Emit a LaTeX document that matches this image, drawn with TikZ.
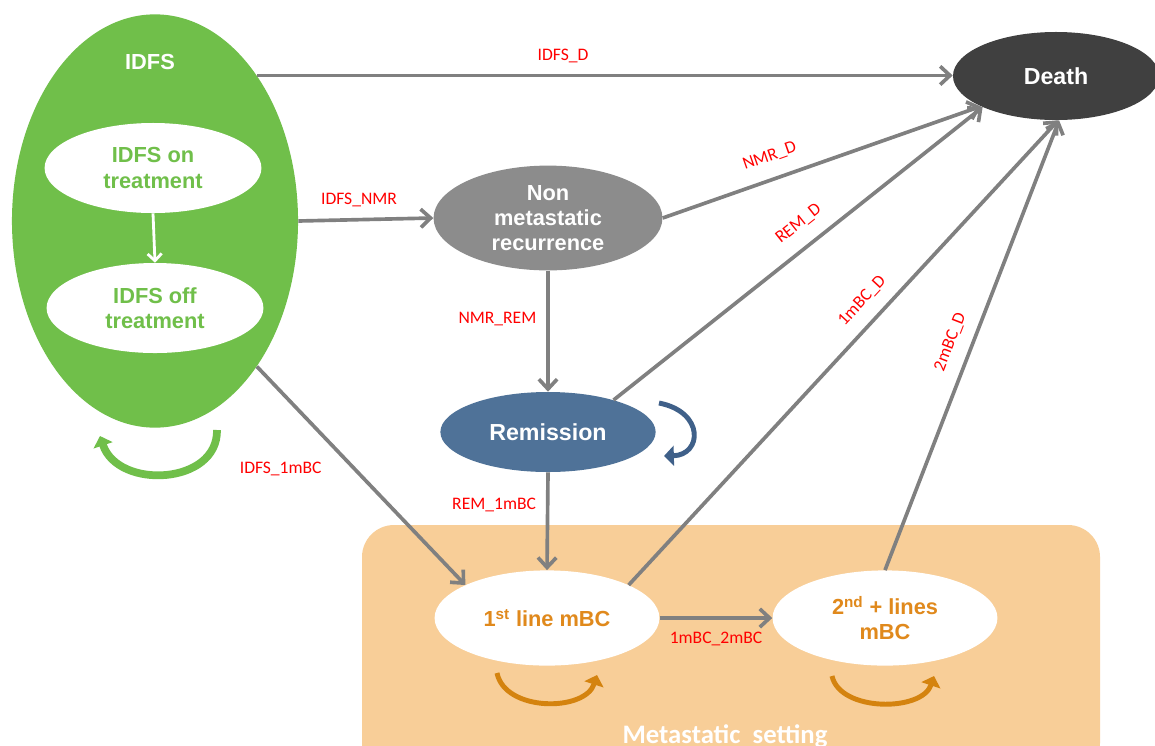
\documentclass[tikz,border=0pt]{standalone}
\usepackage{fontspec}
\setmainfont{Liberation Sans}
\newfontfamily\lblfont{Carlito}
\usepackage{tikz}
\usetikzlibrary{arrows.meta, shapes.geometric}
\definecolor{idfsgreen}{HTML}{70BF4A}
\definecolor{idfsdark}{HTML}{5E9E3A}
\definecolor{deathgray}{HTML}{404040}
\definecolor{nmrgray}{HTML}{8C8C8C}
\definecolor{remblue}{HTML}{4F7298}
\definecolor{remdark}{HTML}{3F6089}
\definecolor{metafill}{HTML}{F8CE98}
\definecolor{mbcorange}{HTML}{E0891C}
\definecolor{loopgold}{HTML}{D4830F}
\definecolor{edgegray}{HTML}{808080}
\tikzset{
  state_base/.style={ellipse, inner sep=0pt, align=center, font=\bfseries\fontsize{15.5}{18}\selectfont},
  idfs_outer/.style={state_base, fill=idfsgreen, minimum width=7.15cm, minimum height=10.33cm},
  idfs_inner/.style={state_base, fill=white, text=idfsgreen, minimum width=5.42cm, minimum height=2.25cm},
  death_node/.style={state_base, fill=deathgray, text=white, minimum width=5.15cm, minimum height=2.2cm, font=\bfseries\fontsize{16.5}{19}\selectfont},
  nmr_node/.style={state_base, fill=nmrgray, text=white, minimum width=5.72cm, minimum height=2.62cm},
  rem_node/.style={state_base, fill=remblue, text=white, minimum width=5.38cm, minimum height=2.0cm, font=\bfseries\fontsize{16.5}{19}\selectfont},
  mbc_node/.style={state_base, fill=white, text=mbcorange, minimum width=5.62cm, minimum height=2.38cm},
  trans_edge/.style={draw=edgegray, line width=2.6pt, -{Straight Barb[length=7pt, width=13pt]}},
  inner_edge/.style={draw=white, line width=2pt, -{Straight Barb[length=5pt, width=10pt]}},
  trans_label/.style={font=\lblfont\fontsize{12.5}{14}\selectfont, text=red, inner sep=1pt},
  loop_edge/.style={line width=4.5pt, -{Triangle[length=7pt, width=14pt]}},
  meta_title/.style={font=\lblfont\bfseries\fontsize{19}{22}\selectfont, text=white}
}
\begin{document}
\begin{tikzpicture}[x=0.025cm, y=-0.025cm]
\clip (0,0) rectangle (1155,745);
\fill[white] (0,0) rectangle (1155,745);
\fill[metafill, rounded corners=0.8cm] (362,525) rectangle (1100,775);
\node[meta_title] (meta_title) at (725,736) {Metastatic\ \ setting};
\node[idfs_outer] (idfs) at (155,221) {};
\node[font=\bfseries\fontsize{15.5}{18}\selectfont, text=white] (idfs_title) at (150,62) {IDFS};
\node[idfs_inner] (idfs_on) at (153,168) {IDFS on\\treatment};
\node[idfs_inner] (idfs_off) at (155,308) {IDFS off\\treatment};
\node[death_node] (death) at (1056,76) {Death};
\node[nmr_node] (nmr) at (548,218) {Non\\metastatic\\recurrence};
\node[rem_node] (rem) at (548,432) {Remission};
\node[mbc_node] (first_mbc) at (547,618) {1\textsuperscript{st} line mBC};
\node[mbc_node] (second_mbc) at (885,618) {2\textsuperscript{nd} + lines\\mBC};
\draw[inner_edge] (idfs_on.south) -- (idfs_off.north);
\draw[trans_edge] (idfs.55) -- node[trans_label, pos=0.44, above=7pt] {IDFS\_D} (death.west |- idfs.55);
\draw[trans_edge] (idfs.east) -- node[trans_label, pos=0.45, above=7pt] {IDFS\_NMR} (nmr.west);
\draw[trans_edge] (idfs.-55) -- node[trans_label, pos=0.47, anchor=east, xshift=-0.75cm] {IDFS\_1mBC} (first_mbc.158);
\draw[trans_edge] (nmr.east) -- node[trans_label, pos=0.36, above=9pt, sloped] {NMR\_D} (death.202);
\draw[trans_edge] (nmr.south) -- node[trans_label, pos=0.4, left=6pt] {NMR\_REM} (rem.north);
\draw[trans_edge] (rem.26) -- node[trans_label, pos=0.54, above=9pt, sloped] {REM\_D} (death.203);
\draw[trans_edge] (rem.south) -- node[trans_label, pos=0.33, left=6pt] {REM\_1mBC} (first_mbc.north);
\draw[trans_edge] (first_mbc.22) -- node[trans_label, pos=0.58, above=8pt, sloped] {1mBC\_D} (death.273);
\draw[trans_edge] (second_mbc.north) -- node[trans_label, pos=0.49, above=8pt, sloped] {2mBC\_D} (death.274);
\draw[trans_edge] (first_mbc.east) -- node[trans_label, pos=0.5, below=8pt] {1mBC\_2mBC} (second_mbc.west);
\coordinate (idfs_loop_a) at (217,430);
\coordinate (idfs_loop_b) at (100,436);
\coordinate (rem_loop_a) at (659,403);
\coordinate (rem_loop_b) at (664,456);
\coordinate (first_loop_a) at (497,673);
\coordinate (first_loop_b) at (597,675);
\coordinate (second_loop_a) at (832,676);
\coordinate (second_loop_b) at (934,676);
\draw[loop_edge, idfsgreen, line width=5.5pt] (idfs_loop_a) .. controls (218,485) and (118,490) .. (idfs_loop_b);
\draw[loop_edge, remdark, line width=3.5pt] (rem_loop_a) .. controls (705,412) and (702,455) .. (rem_loop_b);
\draw[loop_edge, loopgold, line width=3.5pt] (first_loop_a) .. controls (505,712) and (585,712) .. (first_loop_b);
\draw[loop_edge, loopgold, line width=3.5pt] (second_loop_a) .. controls (840,712) and (922,712) .. (second_loop_b);
\end{tikzpicture}
\end{document}
